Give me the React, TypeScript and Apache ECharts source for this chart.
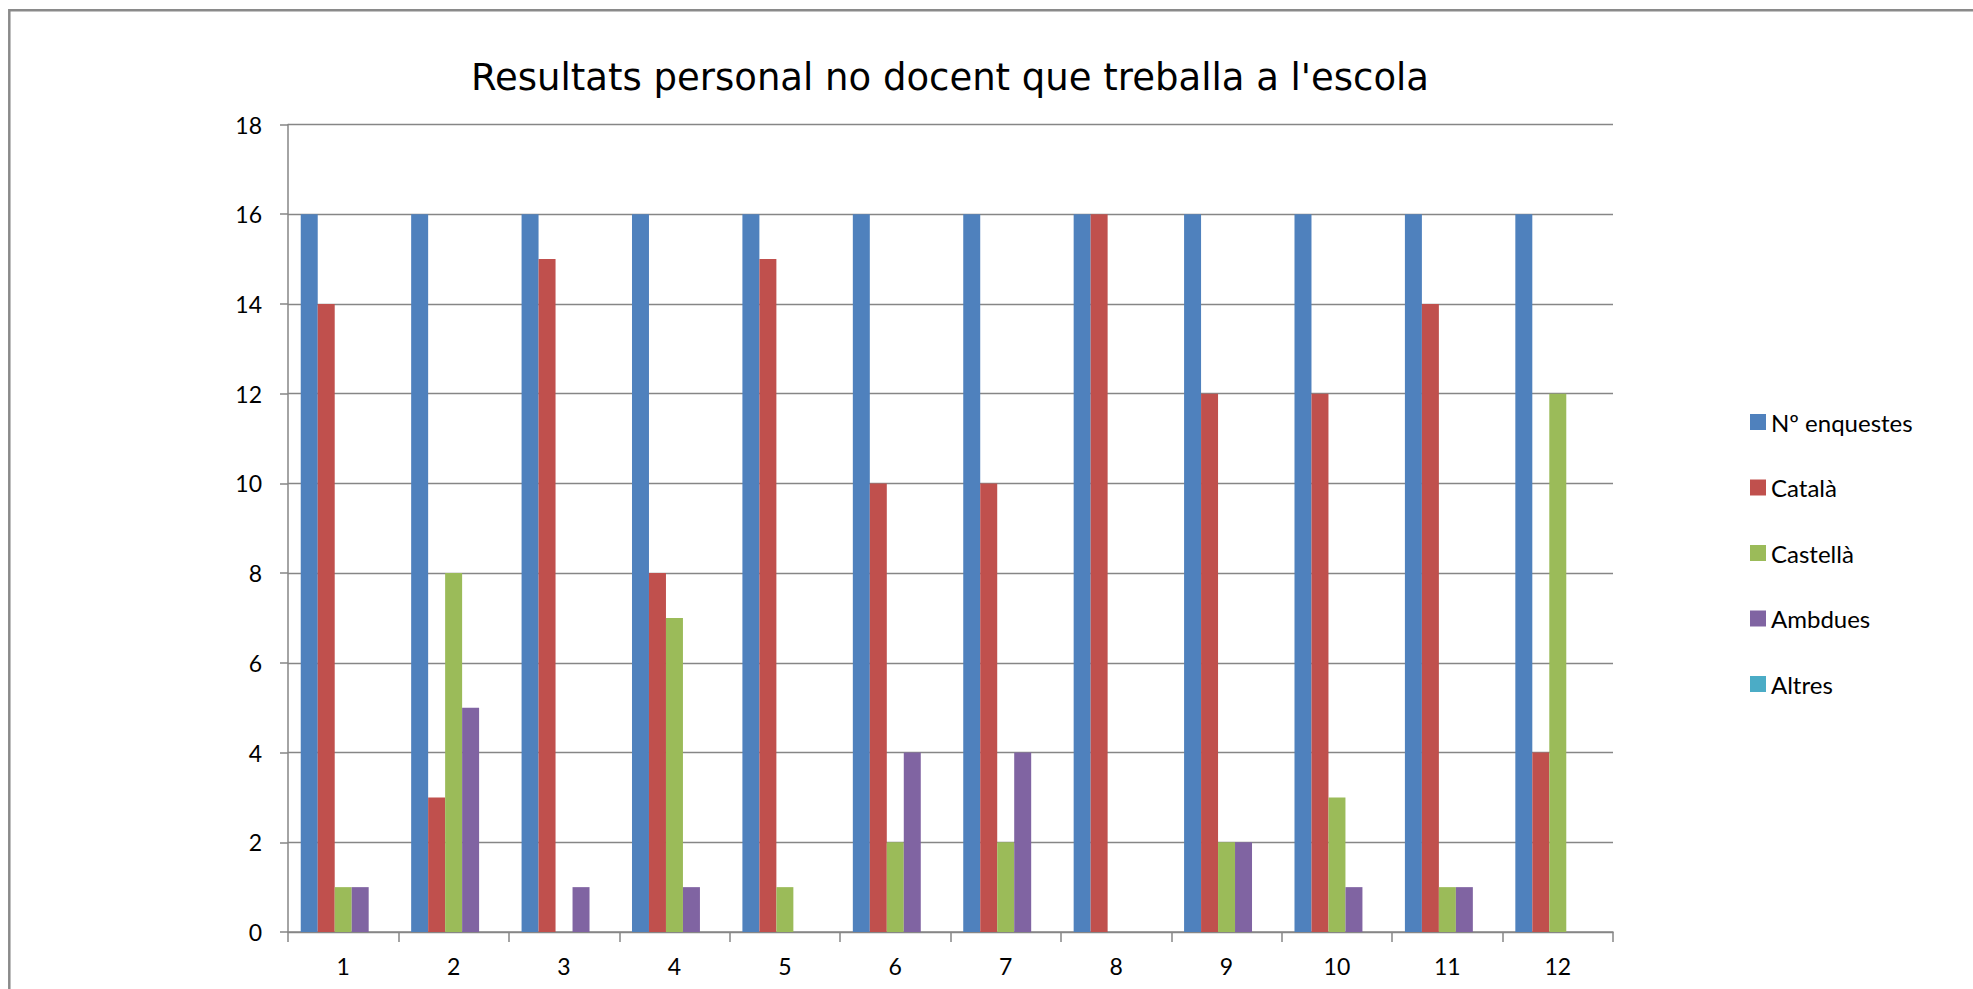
import React, { useEffect, useRef } from "react";
import * as echarts from "echarts";

const categories = ["1", "2", "3", "4", "5", "6", "7", "8", "9", "10", "11", "12"];
const seriesNames = ["Nº enquestes", "Català", "Castellà", "Ambdues", "Altres"];
const enquestes = [16, 16, 16, 16, 16, 16, 16, 16, 16, 16, 16, 16];
const catala = [14, 3, 15, 8, 15, 10, 10, 16, 12, 12, 14, 4];
const castella = [1, 8, 0, 7, 1, 2, 2, 0, 2, 3, 1, 12];
const ambdues = [1, 5, 1, 1, 0, 4, 4, 0, 2, 1, 1, 0];
const altres = [0, 0, 0, 0, 0, 0, 0, 0, 0, 0, 0, 0];
const colors = ["#4F81BD", "#C0504D", "#9BBB59", "#8064A2", "#4BACC6"];
const title = "Resultats personal no docent que treballa a l'escola";

export default function App() {
  const ref = useRef<HTMLDivElement>(null);
  useEffect(() => {
    if (!ref.current) return;
    const chart = echarts.init(ref.current, undefined, { renderer: "svg" });
    const values = [enquestes, catala, castella, ambdues, altres];
    chart.setOption({
      animation: false,
      backgroundColor: "#ffffff",
      title: {
        text: title,
        left: 950,
        textAlign: "center",
        top: 59,
        padding: 0,
        textStyle: {
          fontFamily: "DejaVu Sans",
          fontSize: 37,
          fontWeight: "normal",
          color: "#000000",
        },
      },
      legend: {
        orient: "vertical",
        left: 1750,
        top: 409,
        padding: 0,
        itemWidth: 16,
        itemHeight: 16,
        itemGap: 39.5,
        icon: "rect",
        data: seriesNames,
        textStyle: { fontFamily: "Lato", fontSize: 24, lineHeight: 26, color: "#000000" },
      },
      grid: { left: 288, top: 124.5, width: 1325, height: 807.5, containLabel: false },
      xAxis: {
        type: "category",
        data: categories,
        boundaryGap: true,
        axisLine: { show: true, lineStyle: { color: "#868686", width: 1.5 } },
        axisTick: { show: true, length: 10, alignWithLabel: false, lineStyle: { color: "#868686", width: 1.5 } },
        axisLabel: { margin: 22, fontFamily: "Lato", fontSize: 23, color: "#000000" },
        splitLine: { show: false },
      },
      yAxis: {
        type: "value",
        min: 0,
        max: 18,
        interval: 2,
        axisLine: { show: true, lineStyle: { color: "#868686", width: 1.5 } },
        axisTick: { show: true, length: 8, lineStyle: { color: "#868686", width: 1.5 } },
        axisLabel: { margin: 26, fontFamily: "Lato", fontSize: 23, color: "#000000" },
        splitLine: { show: true, lineStyle: { color: "#868686", width: 1.3 } },
      },
      graphic: [
        {
          type: "rect",
          shape: { x: 9.3, y: 10.2, width: 3000, height: 3000 },
          style: { fill: "none", stroke: "#8a8a8a", lineWidth: 2.5 },
          silent: true,
        },
      ],
      series: seriesNames.map((name, i) => ({
        name,
        type: "bar",
        data: values[i],
        barGap: "0%",
        barCategoryGap: "23.08%",
        itemStyle: { color: colors[i] },
      })),
    });
    return () => chart.dispose();
  }, []);
  return (
    <div
      ref={ref}
      style={{ position: "fixed", left: 0, top: 0, width: 1973, height: 989 }}
    />
  );
}
